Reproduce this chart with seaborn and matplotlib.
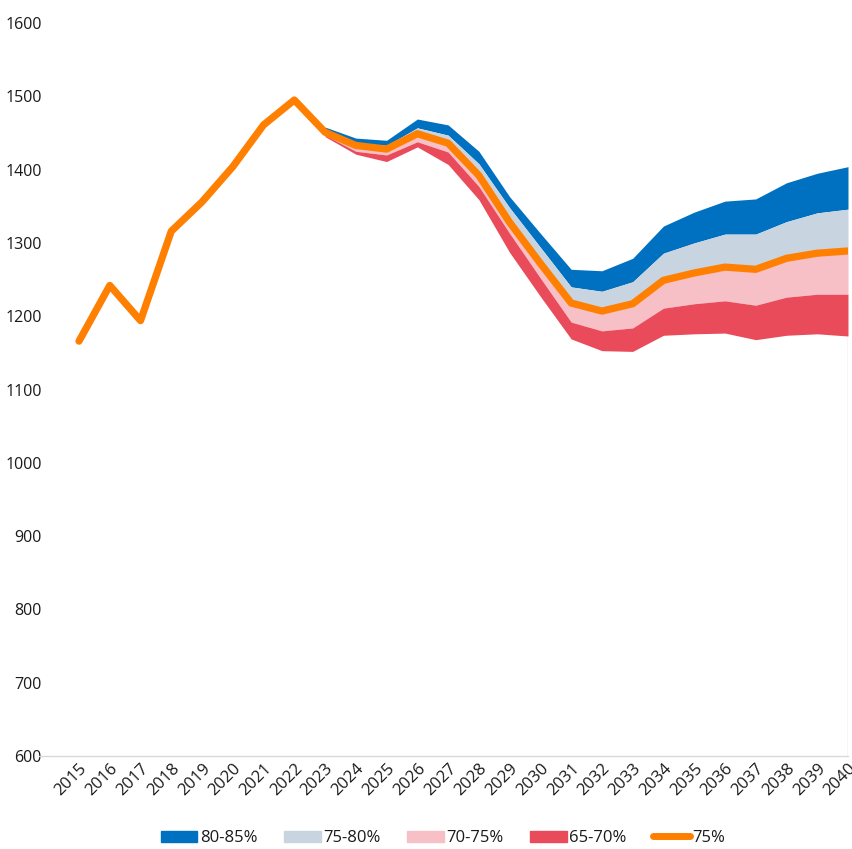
import matplotlib
matplotlib.use("Agg")
import matplotlib.pyplot as plt
import matplotlib.patches as mpatches
from matplotlib.lines import Line2D
import numpy as np
import pandas as pd
import seaborn as sns

# historical values + central 75% path
hist_years = list(range(2015, 2023))
hist_vals = [1166, 1242, 1194, 1316, 1356, 1404, 1461, 1495]

proj_years = list(range(2023, 2041))
p85 = [1458, 1443, 1440, 1469, 1461, 1425, 1363, 1313, 1264, 1262, 1279, 1323, 1342, 1357, 1360, 1382, 1395, 1404]
p80 = [1454, 1436, 1433, 1457, 1447, 1408, 1348, 1294, 1240, 1234, 1247, 1286, 1300, 1312, 1312, 1329, 1341, 1346]
p75 = [1451, 1433, 1428, 1449, 1436, 1392, 1328, 1272, 1218, 1207, 1217, 1249, 1259, 1267, 1264, 1279, 1286, 1289]
p70 = [1447, 1425, 1420, 1438, 1424, 1377, 1313, 1252, 1192, 1180, 1184, 1211, 1217, 1221, 1215, 1226, 1230, 1230]
p65 = [1445, 1421, 1411, 1431, 1407, 1359, 1287, 1227, 1169, 1153, 1152, 1174, 1176, 1177, 1168, 1174, 1176, 1173]

band_labels = ['80-85%', '75-80%', '70-75%', '65-70%']
band_colors = ['#0070C0', '#C8D4E0', '#F6C0C6', '#E94B5A']
line_color = '#FF7F00'

sns.set_style('white')
plt.rcParams['font.family'] = ['Open Sans', 'DejaVu Sans']

line_df = pd.DataFrame({'year': hist_years + proj_years, 'value': hist_vals + p75})

fig = plt.figure(figsize=(8.52, 8.49), dpi=100)
ax = fig.add_axes([0.0458, 0.1095, 0.9495, 0.8634])

bounds = [(p80, p85), (p75, p80), (p70, p75), (p65, p70)]
for (lo, hi), col in zip(bounds, band_colors):
    ax.fill_between(proj_years, lo, hi, color=col, linewidth=0)

# thin edge of the stacked area at the last year
ax.vlines(proj_years[-1], 600, p65[-1], color='#EBC3CB', linewidth=1)

sns.lineplot(data=line_df, x='year', y='value', ax=ax, color=line_color,
             linewidth=5.2, solid_capstyle='round', solid_joinstyle='round')

ax.set_xlim(2013.7, 2040)
ax.set_ylim(600, 1600)
ax.set_yticks(range(600, 1700, 100))
ax.set_xticks(hist_years + proj_years)
ax.set_xticklabels([str(y) for y in hist_years + proj_years], rotation=45,
                   ha='right', rotation_mode='anchor', fontsize=12, color='#1a1a1a')
ax.tick_params(axis='y', labelsize=11.5, labelcolor='#1a1a1a', length=0, pad=-2)
ax.tick_params(axis='x', length=0, pad=3)
ax.set_xlabel('')
ax.set_ylabel('')

for s in ['top', 'right', 'left']:
    ax.spines[s].set_visible(False)
ax.spines['bottom'].set_color('#D9D9D9')
ax.spines['bottom'].set_linewidth(1)

handles = [mpatches.Patch(color=c, label=l) for c, l in zip(band_colors, band_labels)]
handles.append(Line2D([0], [0], color=line_color, linewidth=5, solid_capstyle='round', label='75%'))
fig.legend(handles=handles, loc='center', bbox_to_anchor=(0.52, 0.013), ncol=5,
           frameon=False, fontsize=12, handlelength=2.2, handleheight=0.65,
           handletextpad=0.15, columnspacing=1.6, labelcolor='#1a1a1a')

fig.savefig('out.png', dpi=100)
